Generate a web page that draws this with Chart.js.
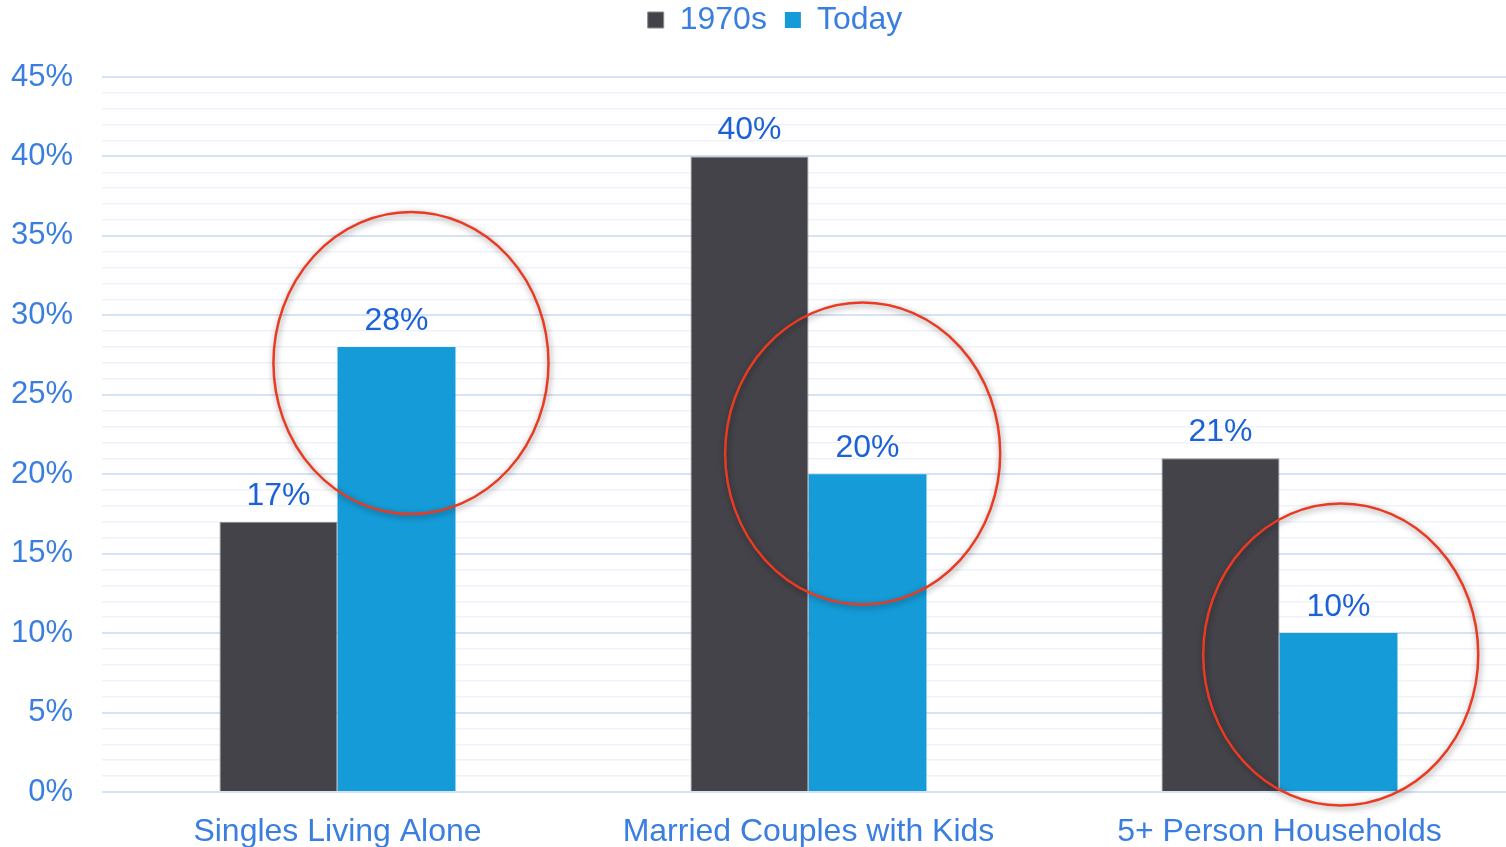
<!DOCTYPE html>
<html>
<head>
<meta charset="utf-8">
<script src="https://cdn.jsdelivr.net/npm/chart.js@4.4.1/dist/chart.umd.min.js"></script>
<style>
html, body { margin: 0; padding: 0; overflow: hidden; background: #fff; }
#wrap { position: absolute; left: 0; top: 0; width: 1550px; height: 847px; }
</style>
</head>
<body>
<div id="wrap"><canvas id="c"></canvas></div>
<script>
// ---- data ----
const categories = ['Singles Living Alone', 'Married Couples with Kids', '5+ Person Households'];
const seriesNames = ['1970s', 'Today'];
const values1970s = [17, 40, 21];
const valuesToday = [28, 20, 10];
// highlight ellipses: category index, centre value (%)
const circleCategory = [0, 1, 2];
const circleValue = [27.0, 21.3, 8.65];

// ---- styles ----
const FONT = '"Liberation Sans", Arial, sans-serif';
const tickBlue = '#3a7ee0';
const labelBlue = '#1c62d6';
const circleStyle = { xOffset: [0.156, 0.115, 0.130], rx: 0.292, ryValue: 9.5, color: '#ea3a22', width: 2.5 };

const dataLabels = {
  id: 'dataLabels',
  afterDatasetsDraw(chart) {
    const ctx = chart.ctx;
    ctx.save();
    ctx.font = '32px ' + FONT;
    ctx.fillStyle = labelBlue;
    ctx.textAlign = 'center';
    ctx.textBaseline = 'middle';
    chart.data.datasets.forEach((ds, i) => {
      chart.getDatasetMeta(i).data.forEach((bar, j) => {
        ctx.fillText(ds.data[j] + '%', bar.x, bar.y - 26);
      });
    });
    ctx.restore();
  }
};

const circles = {
  id: 'circles',
  afterDatasetsDraw(chart) {
    const ctx = chart.ctx;
    const xs = chart.scales.x, ys = chart.scales.y;
    const catW = xs.getPixelForValue(1) - xs.getPixelForValue(0);
    ctx.save();
    circleCategory.forEach((c, k) => {
      const cx = xs.getPixelForValue(c) + circleStyle.xOffset[k] * catW;
      const cy = ys.getPixelForValue(circleValue[k]);
      const rx = circleStyle.rx * catW;
      const ry = ys.getPixelForValue(0) - ys.getPixelForValue(circleStyle.ryValue);
      ctx.beginPath();
      ctx.ellipse(cx, cy, rx, ry, 0, 0, Math.PI * 2);
      ctx.shadowColor = 'rgba(0,0,0,0.45)';
      ctx.shadowBlur = 6;
      ctx.shadowOffsetX = 1;
      ctx.shadowOffsetY = 2;
      ctx.strokeStyle = circleStyle.color;
      ctx.lineWidth = circleStyle.width;
      ctx.stroke();
    });
    ctx.restore();
  }
};

new Chart(document.getElementById('c'), {
  type: 'bar',
  data: {
    labels: categories,
    datasets: [
      { label: seriesNames[0], data: values1970s, backgroundColor: '#434349', borderColor: '#8a8a90', borderWidth: 1, borderSkipped: 'bottom' },
      { label: seriesNames[1], data: valuesToday, backgroundColor: '#159cd8', borderWidth: 0 }
    ]
  },
  options: {
    responsive: true,
    maintainAspectRatio: false,
    animation: false,
    layout: { padding: { left: 0, right: 0, top: -14, bottom: 0 } },
    datasets: { bar: { categoryPercentage: 0.501, barPercentage: 1 } },
    plugins: {
      legend: {
        position: 'top',
        labels: {
          color: tickBlue,
          font: { size: 32, family: FONT },
          boxWidth: 16, boxHeight: 16, padding: 18
        }
      },
      title: {
        display: true, text: '', weight: 500,
        font: { size: 10 }, padding: { top: 9.5, bottom: 9.5 }
      },
      tooltip: { enabled: false }
    },
    scales: {
      x: {
        grid: { display: false },
        border: { display: false },
        ticks: { color: tickBlue, font: { size: 32, family: FONT }, padding: 13, maxRotation: 0 },
        afterFit(scale) { scale.height = 55; }
      },
      y: {
        min: 0, max: 45,
        border: { display: false },
        grid: {
          drawTicks: false,
          color: (ctx) => (ctx.tick && ctx.tick.value % 5 === 0) ? '#d6e2f5' : '#edf2fb',
          lineWidth: (ctx) => (ctx.tick && ctx.tick.value % 5 === 0) ? 2 : 1.5
        },
        ticks: {
          stepSize: 1, autoSkip: false, maxTicksLimit: 100,
          color: tickBlue, padding: 29,
          font: { size: 31, family: FONT },
          callback: (v) => (v % 5 === 0 ? v + '%' : '')
        },
        afterFit(scale) { scale.width = 102; }
      },
      yRight: {
        position: 'right',
        grid: { display: false },
        border: { display: false },
        ticks: { display: false },
        afterFit(scale) { scale.width = 35; }
      }
    }
  },
  plugins: [dataLabels, circles]
});
</script>
</body>
</html>
